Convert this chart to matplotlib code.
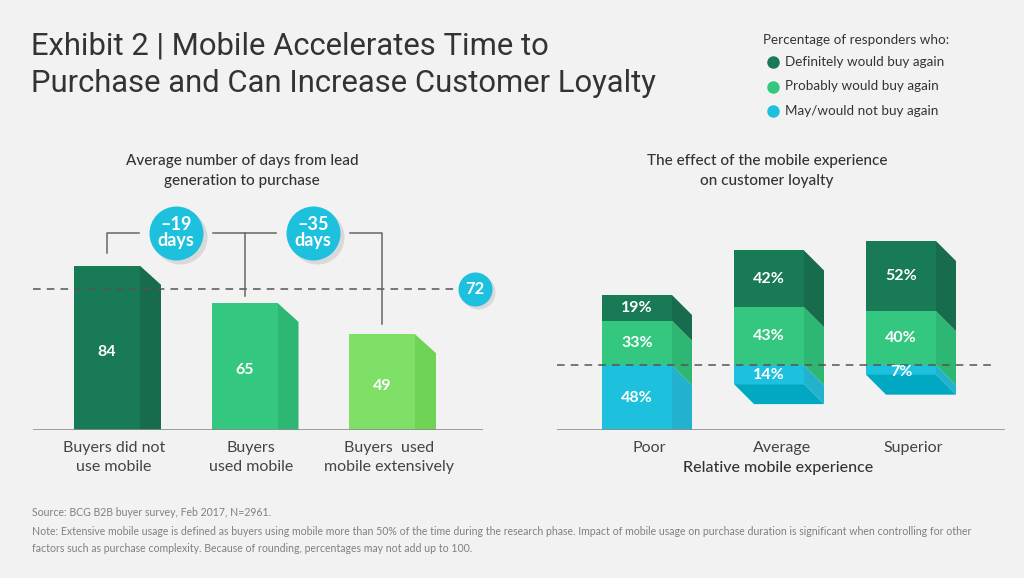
import matplotlib
matplotlib.use("Agg")
import matplotlib.pyplot as plt
from matplotlib.patches import Polygon, Rectangle
from matplotlib.lines import Line2D

# ---------------- data ----------------
left_categories = ["Buyers did not\nuse mobile", "Buyers\nused mobile", "Buyers  used\nmobile extensively"]
left_days = [84, 65, 49]
left_avg = 72

right_categories = ["Poor", "Average", "Superior"]
definitely = [19, 42, 52]
probably = [33, 43, 40]
not_again = [48, 14, 7]
legend_labels = ["Definitely would buy again", "Probably would buy again", "May/would not buy again"]

# ---------------- style ----------------
BG = "#f2f2f2"
TXT = "#333333"
DK_F, DK_S = "#197a56", "#176c4c"
MD_F, MD_S = "#33c77f", "#2eb673"
LT_F, LT_S = "#7fe068", "#6fd456"
CY_F, CY_S, CY_B = "#1ec1dd", "#22b2cd", "#00a9c1"
FONT = ["Lato", "DejaVu Sans"]
plt.rcParams["font.family"] = FONT

W, H = 1024, 578
fig = plt.figure(figsize=(W / 100, H / 100), dpi=100, facecolor=BG)


def fx(px):
    return px / W


def fy(py):
    return 1 - py / H


# title
fig.text(fx(31), fy(46), "Exhibit 2 | Mobile Accelerates Time to", fontsize=22.3,
         color=TXT, va="center", ha="left", family=["Roboto", "DejaVu Sans"])
fig.text(fx(31), fy(83), "Purchase and Can Increase Customer Loyalty", fontsize=22.3,
         color=TXT, va="center", ha="left", family=["Roboto", "DejaVu Sans"])

# legend
fig.text(fx(763), fy(40), "Percentage of responders who:", fontsize=9.7, color=TXT, va="center")
for i, (lab, col) in enumerate(zip(legend_labels, [DK_F, MD_F, CY_F])):
    yy = fy(62 + i * 24.5)
    fig.add_artist(Line2D([fx(773)], [yy], marker="o", markersize=9, color=col,
                          markeredgewidth=0, transform=fig.transFigure))
    fig.text(fx(785), yy, lab, fontsize=9.7, color=TXT, va="center")

# subtitles
fig.text(fx(242), fy(171), "Average number of days from lead\ngeneration to purchase",
         fontsize=11, color=TXT, ha="center", va="center", linespacing=1.6, fontweight="medium")
fig.text(fx(767), fy(171), "The effect of the mobile experience\non customer loyalty",
         fontsize=11, color=TXT, ha="center", va="center", linespacing=1.6, fontweight="medium")

# footer
fig.text(fx(32), fy(513), "Source: BCG B2B buyer survey, Feb 2017, N=2961.", fontsize=7.6,
         color="#808080", va="center")
fig.text(fx(32), fy(540),
         "Note: Extensive mobile usage is defined as buyers using mobile more than 50% of the time during the research phase. "
         "Impact of mobile usage on purchase duration is significant when controlling for other\n"
         "factors such as purchase complexity. Because of rounding, percentages may not add up to 100.",
         fontsize=7.6, color="#808080", va="center", linespacing=1.75)


def box(ax, x0, x1, y0, y1, dx, dy, front, side, bottom=None, z=2):
    ax.add_patch(Polygon([(x1, y0), (x1, y1), (x1 + dx, y1 - dy), (x1 + dx, y0 - dy)],
                         closed=True, facecolor=side, edgecolor="none", zorder=z))
    ax.add_patch(Rectangle((x0, y0), x1 - x0, y1 - y0, facecolor=front, edgecolor="none", zorder=z))
    if bottom is not None:
        ax.add_patch(Polygon([(x0, y0), (x1, y0), (x1 + dx, y0 - dy), (x0 + dx, y0 - dy)],
                             closed=True, facecolor=bottom, edgecolor="none", zorder=z))


# ---------------- left chart ----------------
axL = fig.add_axes([fx(33), fy(430), (483 - 33) / W, 240 / H])
axL.set_facecolor("none")
L_PX_X = 137.5          # pixels per category unit
L_PX_Y = 1.955          # pixels per day
axL.set_xlim((33 - 107) / L_PX_X, (483 - 107) / L_PX_X)
axL.set_ylim(0, 240 / L_PX_Y)
axL.axis("off")
bw = 66 / L_PX_X
ldx, ldy = 21 / L_PX_X, 19 / L_PX_Y
for i, (v, fc, sc) in enumerate(zip(left_days, [DK_F, MD_F, LT_F], [DK_S, MD_S, LT_S])):
    box(axL, i - bw / 2, i + bw / 2, 0, v, ldx, ldy, fc, sc)
    axL.text(i, v / 2 - 2, str(v), color="white", fontsize=11.5, fontweight="bold",
             ha="center", va="center", zorder=5)
    axL.text(i + 0.05, -27.5 / L_PX_Y, left_categories[i], ha="center", va="center", fontsize=11.5,
             color="#444444", linespacing=1.42, clip_on=False)
axL.axhline(0, color="#8c8c8c", lw=1.2, zorder=3)
bub_x72 = (475 - 107) / L_PX_X
axL.hlines(left_avg, axL.get_xlim()[0], bub_x72 - 17 / L_PX_X, colors="#555555",
           linestyles=(0, (5, 4)), lw=1.1, zorder=4)
sh = 3
axL.scatter([bub_x72 + sh / L_PX_X], [left_avg - sh / L_PX_Y], s=(17 * 2 * 0.72) ** 2,
            color="#d9d9d9", zorder=5, clip_on=False, linewidths=0)
axL.scatter([bub_x72], [left_avg], s=(17 * 2 * 0.72) ** 2, color=CY_F, zorder=6,
            clip_on=False, linewidths=0)
axL.text(bub_x72, left_avg, str(left_avg), color="white", fontsize=12, fontweight="bold",
         ha="center", va="center", zorder=7, clip_on=False)

# difference bubbles and brackets
yb = 101
rb = 27
for k, j in enumerate([1, 2]):
    diff = left_days[j] - left_days[0]
    bx = k + 0.5
    axL.scatter([bx + 4 / L_PX_X], [yb - 4 / L_PX_Y], s=(rb * 2 * 0.72) ** 2, color="#d9d9d9",
                zorder=5, linewidths=0)
    axL.scatter([bx], [yb], s=(rb * 2 * 0.72) ** 2, color=CY_F, zorder=6, linewidths=0)
    axL.text(bx, yb, f"\u2013{abs(diff)}\ndays", color="white", fontsize=13, fontweight="bold",
             ha="center", va="center", linespacing=0.95, zorder=7)
gap = (rb + 10) / L_PX_X
lc, lw = "#666666", 1.1
axL.plot([0, 0, 0.5 - gap], [left_days[0] + 6.5, yb, yb], color=lc, lw=lw, zorder=4)
axL.plot([0.5 + gap, 1.5 - gap], [yb, yb], color=lc, lw=lw, zorder=4)
axL.plot([1, 1], [yb, left_days[1] + 3.5], color=lc, lw=lw, zorder=4)
axL.plot([1.5 + gap, 2, 2], [yb, yb, left_days[2] + 5], color=lc, lw=lw, zorder=4)

# ---------------- right chart ----------------
axR = fig.add_axes([fx(557), fy(430), (1005 - 557) / W, 240 / H])
axR.set_facecolor("none")
R_PX_X = 132.0
R_PX_Y = 1.35
axR.set_xlim((557 - 637) / R_PX_X, (1005 - 637) / R_PX_X)
ymin = -max(not_again)
axR.set_ylim(ymin, ymin + 240 / R_PX_Y)
axR.axis("off")
rbw = 70 / R_PX_X
rdx, rdy = 20 / R_PX_X, 20 / R_PX_Y
for i in range(len(right_categories)):
    x0, x1 = i - rbw / 2, i + rbw / 2
    # negative
    n = not_again[i]
    box(axR, x0, x1, -n, 0, rdx, rdy, CY_F, CY_S, bottom=CY_B)
    axR.text(i, -n / 2 - (1.5 if n < 10 else 0), f"{n}%", color="white", fontsize=11.5,
             fontweight="bold", ha="center", va="center", zorder=6)
    p = probably[i]
    box(axR, x0, x1, 0, p, rdx, rdy, MD_F, MD_S)
    axR.text(i, p / 2, f"{p}%", color="white", fontsize=11.5, fontweight="bold",
             ha="center", va="center", zorder=6)
    d = definitely[i]
    box(axR, x0, x1, p, p + d, rdx, rdy, DK_F, DK_S)
    axR.text(i, p + d / 2, f"{d}%", color="white", fontsize=11.5, fontweight="bold",
             ha="center", va="center", zorder=6)
    axR.text(i + rdx / 2 + 0.02, ymin - 13.5, right_categories[i], ha="center", va="center",
             fontsize=11.5, color="#444444", clip_on=False)
axR.axhline(ymin, color="#8c8c8c", lw=1.2, zorder=3)
axR.hlines(0, axR.get_xlim()[0], (993 - 637) / R_PX_X, colors="#555555",
           linestyles=(0, (5, 4)), lw=1.1, zorder=5)
axR.text((778 - 637) / R_PX_X, ymin - 28.5, "Relative mobile experience", ha="center",
         va="center", fontsize=11.5, color=TXT, fontweight="medium", clip_on=False)

fig.savefig("out.png", dpi=100, facecolor=BG)
